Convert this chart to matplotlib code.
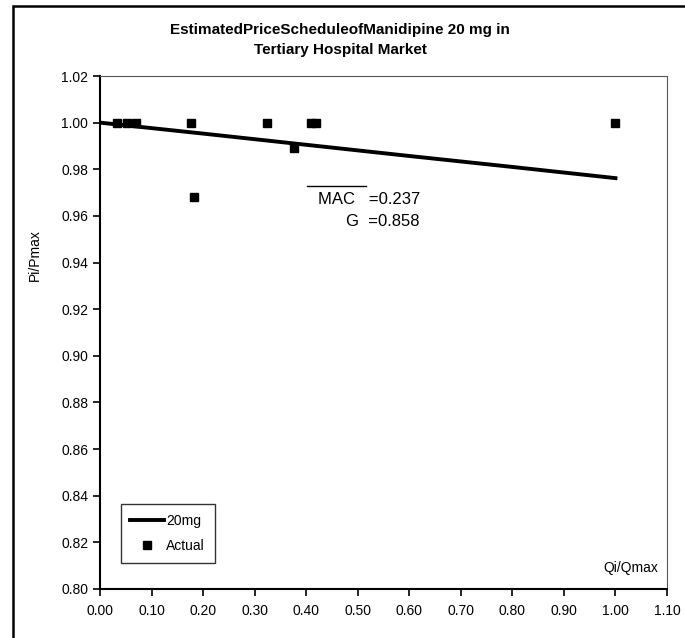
import matplotlib.pyplot as plt
from matplotlib.lines import Line2D
from matplotlib.patches import Rectangle

# fitted price schedule (20 mg)
line_q = [0.00, 0.20, 0.40, 0.60, 0.80, 1.00]
line_p = [1.000, 0.9953, 0.9905, 0.9857, 0.9810, 0.9762]

# actual observations
actual_q = [0.033, 0.052, 0.070, 0.177, 0.183, 0.324, 0.377, 0.410, 0.420, 1.000]
actual_p = [1.000, 1.000, 1.000, 1.000, 0.968, 1.000, 0.989, 1.000, 1.000, 1.000]

x_ticks = [0.0, 0.1, 0.2, 0.3, 0.4, 0.5, 0.6, 0.7, 0.8, 0.9, 1.0, 1.1]
y_ticks = [0.80, 0.82, 0.84, 0.86, 0.88, 0.90, 0.92, 0.94, 0.96, 0.98, 1.00, 1.02]

plt.rcParams['font.family'] = ['Liberation Sans', 'DejaVu Sans']

W, H = 685, 638
fig = plt.figure(figsize=(W / 100, H / 100), dpi=100)
ax = fig.add_axes([100 / W, 1 - 589 / H, 567 / W, 513 / H])

ax.plot(line_q, line_p, color='black', linewidth=2.8, label='20mg', zorder=2)
ax.plot(actual_q, actual_p, linestyle='none', marker='s', markersize=5.8,
        color='black', label='Actual', zorder=3)

ax.set_xlim(0, 1.1)
ax.set_ylim(0.80, 1.02)
ax.set_xticks(x_ticks)
ax.set_xticklabels([f"{v:.2f}" for v in x_ticks])
ax.set_yticks(y_ticks)
ax.set_yticklabels([f"{v:.2f}" for v in y_ticks])
ax.tick_params(direction='out', length=5, width=1.2, labelsize=10, colors='black')
ax.tick_params(axis='x', pad=6)
for s in ['left', 'bottom']:
    ax.spines[s].set_linewidth(1.5)
for s in ['top', 'right']:
    ax.spines[s].set_linewidth(0.8)
    ax.spines[s].set_color('#555555')

ax.text(0.985, 0.04, 'Qi/Qmax', transform=ax.transAxes, ha='right', va='center', fontsize=10)

leg = ax.legend(loc='lower left', bbox_to_anchor=(0.024, 0.038), fontsize=10,
                frameon=True, fancybox=False, handlelength=2.4, borderpad=0.7,
                labelspacing=0.8, handletextpad=0.2)
leg.get_frame().set_edgecolor('black')
leg.get_frame().set_linewidth(1.0)

# title and y label placed like the original
fig.text(340 / W, 1 - 30 / H, 'EstimatedPriceScheduleofManidipine 20 mg in',
         ha='center', va='center', fontsize=11, fontweight='bold')
fig.text(340 / W, 1 - 50 / H, 'Tertiary Hospital Market',
         ha='center', va='center', fontsize=11, fontweight='bold')
fig.text(35 / W, 1 - 255 / H, 'Pi/Pmax', rotation=90, ha='center', va='center', fontsize=10)

# MAC / G annotation
fig.text(420 / W, 1 - 199 / H, 'MAC   =0.237', ha='right', va='center', fontsize=12)
fig.text(420 / W, 1 - 222 / H, 'G  =0.858', ha='right', va='center', fontsize=12)
fig.add_artist(Line2D([307 / W, 366 / W], [1 - 186 / H, 1 - 186 / H],
                      color='black', linewidth=1.0))

# outer frame around the whole chart
fig.add_artist(Rectangle((13 / W, -0.01), 1.0, 1 - 6 / H + 0.01,
                         transform=fig.transFigure, fill=False,
                         edgecolor='black', linewidth=1.8))

fig.savefig('out.png', dpi=100)
